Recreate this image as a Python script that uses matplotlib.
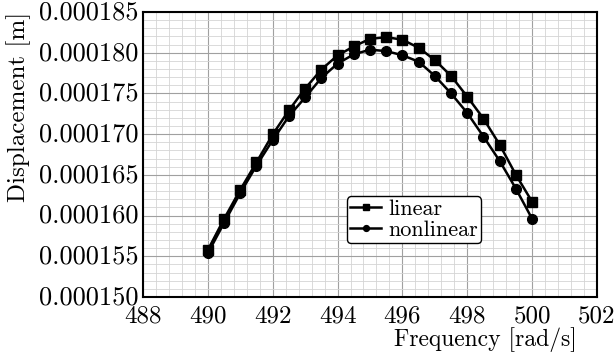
import numpy as np
import matplotlib
matplotlib.use("Agg")
import matplotlib.pyplot as plt
import matplotlib.transforms as mtransforms
from matplotlib.ticker import MultipleLocator

plt.rcParams['font.family'] = 'serif'
plt.rcParams['font.serif'] = ['cmr10', 'DejaVu Serif']
plt.rcParams['mathtext.fontset'] = 'cm'
plt.rcParams['axes.formatter.use_mathtext'] = True

# frequency [rad/s]
freq = [490.0, 490.5, 491.0, 491.5, 492.0, 492.5, 493.0, 493.5, 494.0, 494.5, 495.0,
        495.5, 496.0, 496.5, 497.0, 497.5, 498.0, 498.5, 499.0, 499.5, 500.0]
# displacement [m] (units of 1e-6)
linear = [155.77, 159.59, 163.17, 166.54, 169.96, 172.93, 175.6, 177.93, 179.67, 180.77, 181.7,
          181.91, 181.6, 180.61, 179.1, 177.15, 174.6, 171.9, 168.7, 165.0, 161.7]
nonlinear = [155.37, 159.1, 162.76, 166.14, 169.27, 172.2, 174.5, 176.9, 178.66, 179.8, 180.37,
             180.2, 179.69, 178.9, 177.15, 175.0, 172.6, 169.7, 166.7, 163.3, 159.6]

xticks = [488, 490, 492, 494, 496, 498, 500, 502]
yticks = [0.000150, 0.000155, 0.000160, 0.000165, 0.000170, 0.000175, 0.000180, 0.000185]

fig = plt.figure(figsize=(6.15, 3.55), dpi=100)
ax = fig.add_axes([0.2325, 0.1634, 0.7382, 0.8028])

ax.plot(freq, np.array(linear) * 1e-6, color='black', lw=1.8, marker='s', ms=7, label='linear')
ax.plot(freq, np.array(nonlinear) * 1e-6, color='black', lw=1.8, marker='o', ms=7, label='nonlinear')

ax.set_xlim(488, 502)
ax.set_ylim(0.000150, 0.000185)
ax.set_xticks(xticks)
ax.set_xticklabels([str(t) for t in xticks], fontsize=18)
ax.set_yticks(yticks)
ax.set_yticklabels(['%.6f' % t for t in yticks], fontsize=19)
ax.xaxis.set_minor_locator(MultipleLocator(0.4))
ax.yaxis.set_minor_locator(MultipleLocator(1e-6))
ax.grid(True, which='major', color='#a0a0a0', lw=0.8)
ax.grid(True, which='minor', color='#d4d4d4', lw=0.6)
ax.set_axisbelow(True)
ax.tick_params(which='both', length=0)
ax.tick_params(axis='x', pad=6)
ax.tick_params(axis='y', pad=3)
for s in ax.spines.values():
    s.set_linewidth(1.5)

# nudge y tick labels up a little so the bottom one clears "488"
shift = mtransforms.ScaledTranslation(0, 2 / 100, fig.dpi_scale_trans)
for lbl in ax.get_yticklabels():
    lbl.set_transform(lbl.get_transform() + shift)

ax.set_xlabel('Frequency [rad/s]', fontsize=17, loc='right')
ax.xaxis.set_label_coords(0.956, -0.105)
ax.set_ylabel('Displacement [m]', fontsize=18, loc='top', labelpad=6)

leg = ax.legend(loc='lower left', bbox_to_anchor=(0.449, 0.189), borderaxespad=0, fontsize=16,
                handlelength=1.4, handletextpad=0.3, borderpad=0.15, labelspacing=0.05,
                markerscale=0.6, fancybox=True, framealpha=1, edgecolor='black')
leg.get_frame().set_linewidth(1.0)

fig.savefig('out.png', dpi=100)
